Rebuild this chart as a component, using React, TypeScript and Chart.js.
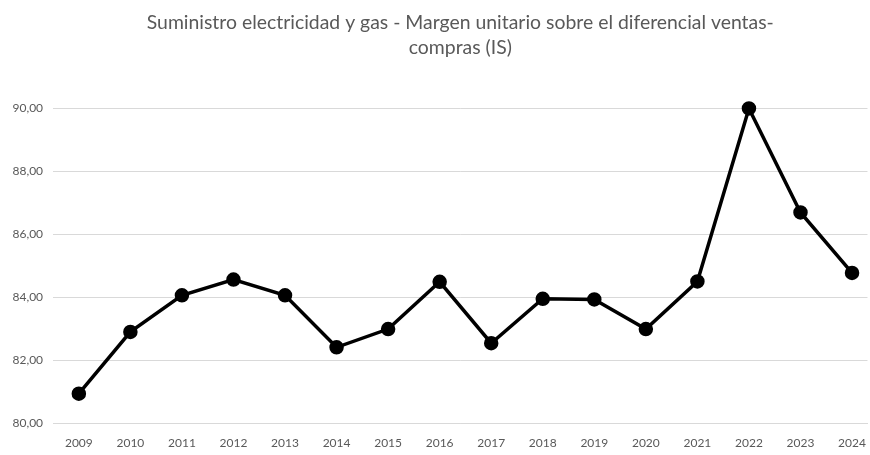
import React, { useEffect, useRef } from "react";
import { Chart, registerables } from "chart.js";

Chart.register(...registerables);

const years: number[] = [2009, 2010, 2011, 2012, 2013, 2014, 2015, 2016, 2017, 2018, 2019, 2020, 2021, 2022, 2023, 2024];
const margin: number[] = [80.95, 82.91, 84.07, 84.57, 84.07, 82.42, 83.0, 84.5, 82.55, 83.96, 83.94, 83.0, 84.51, 90.0, 86.7, 84.78];
const titleLines: string[] = ["Suministro electricidad y gas - Margen unitario sobre el diferencial ventas-", "compras (IS)"];
const yMin = 80;
const yMax = 90;
const yStep = 2;

export default function App() {
  const ref = useRef<HTMLCanvasElement | null>(null);

  useEffect(() => {
    if (!ref.current) return;
    const font = "Lato, 'Open Sans', sans-serif";
    const chart = new Chart(ref.current, {
      type: "line",
      data: {
        datasets: [
          {
            data: years.map((y, i) => ({ x: y, y: margin[i] })),
            borderColor: "#000000",
            backgroundColor: "#000000",
            borderWidth: 3.5,
            pointRadius: 5.5,
            pointBackgroundColor: "#000000",
            pointBorderColor: "#000000",
            tension: 0,
            clip: false,
          },
        ],
      },
      options: {
        animation: false,
        responsive: false,
        maintainAspectRatio: false,
        layout: { autoPadding: false, padding: { top: 10, left: 2.5, right: 2, bottom: 1 } },
        plugins: {
          legend: { display: false },
          tooltip: { enabled: false },
          title: {
            display: true,
            fullSize: false,
            text: titleLines,
            color: "#595959",
            font: { family: font, size: 19.4, weight: "normal", lineHeight: 1.3 },
            padding: { top: 0, bottom: 48 },
          },
        },
        scales: {
          x: {
            type: "linear",
            min: 2008.5,
            max: 2024.3,
            grid: { display: false },
            border: { display: true, color: "#d9d9d9", width: 1 },
            ticks: {
              stepSize: 1,
              includeBounds: false,
              autoSkip: false,
              maxRotation: 0,
              color: "#595959",
              font: { family: font, size: 12 },
              padding: 4,
              callback: (v: any) => String(v),
            },
          },
          y: {
            min: yMin,
            max: yMax,
            grid: { color: "#d9d9d9", lineWidth: 1, drawTicks: false },
            border: { display: false },
            ticks: {
              stepSize: yStep,
              color: "#595959",
              font: { family: font, size: 12 },
              padding: 10,
              callback: (v: any) => Number(v).toFixed(2).replace(".", ","),
            },
          },
        },
      },
    });
    return () => chart.destroy();
  }, []);

  return (
    <div style={{ position: "absolute", left: 0, top: 0, width: 870, height: 455, background: "#fff" }}>
      <canvas ref={ref} width={870} height={455} style={{ width: 870, height: 455 }} />
    </div>
  );
}
